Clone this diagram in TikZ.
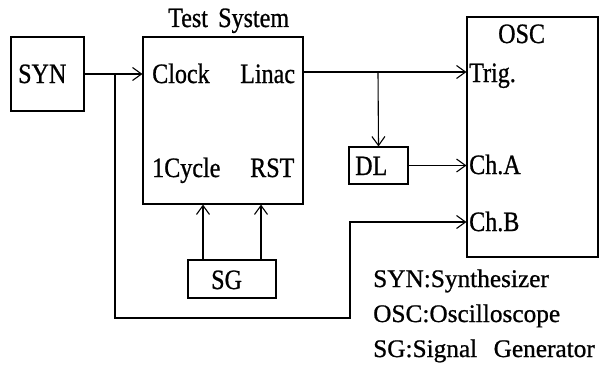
\documentclass[tikz,border=0pt]{standalone}
\usepackage{fontspec}
\setmainfont{Liberation Serif}[FakeStretch=0.86,FakeBold=0.8]
\newfontfamily\legfont{Liberation Serif}[FakeBold=0.8]
\usetikzlibrary{arrows.meta}
\begin{document}
\begin{tikzpicture}[x=1pt,y=-1pt,
  box/.style={draw,line width=1.1pt,inner sep=0pt,minimum width=#1},
  arr/.style={line width=1.1pt,-{Straight Barb[length=9pt,width=13pt,line width=1.1pt]}},
  txt/.style={anchor=base west,inner sep=0pt,font=\fontsize{28}{30}\selectfont},
  leg/.style={anchor=base west,inner sep=0pt,font=\legfont\fontsize{25.3}{28}\selectfont}]
\useasboundingbox (0,0) rectangle (599,364);
% boxes
\node[box=73pt,minimum height=74pt] (syn) at (47.5,74) {};
\node[box=160pt,minimum height=167pt] (ts) at (223,120.5) {};
\node[box=88pt,minimum height=38pt] (sg) at (232,279) {};
\node[box=59pt,minimum height=37pt] (dl) at (378.5,165.5) {};
\node[box=131pt,minimum height=240pt] (osc) at (532.5,137) {};
% texts
\node[txt] (synt) at (18,83) {SYN};
\node[txt] (tst) at (168,27) {Test\hspace{0.15em} System};
\node[txt] (clk) at (152,83) {Clock};
\node[txt] (lin) at (240,83) {Linac};
\node[txt] (cyc) at (152,177) {1Cycle};
\node[txt] (rst) at (250,177) {RST};
\node[txt] (sgt) at (211,289) {SG};
\node[txt] (dlt) at (355,175) {DL};
\node[txt] (osct) at (498,43) {OSC};
\node[txt] (trg) at (469,82) {Trig.};
\node[txt] (cha) at (469,174) {Ch.A};
\node[txt] (chb) at (469,231) {Ch.B};
\node[leg] (l1) at (373,287) {SYN:Synthesizer};
\node[leg] (l2) at (373,322) {OSC:Oscilloscope};
\node[leg] (l3) at (373,357) {SG:Signal\hspace{0.4em} Generator};
% coordinates
\coordinate (j1) at (115,74);
\coordinate (low) at (350,318);
\coordinate (yb) at (0,222);
\coordinate (yt) at (0,72);
\coordinate (j2) at (378,72);
\coordinate (s1) at (203,0);
\coordinate (s2) at (261,0);
% connectors
\draw[arr] (syn.east) -- (syn.east -| ts.west);
\draw[arr] (j1) |- (low) -- (low |- yb) -- (yb -| osc.west);
\draw[arr] (ts.east |- yt) -- (yt -| osc.west);
\draw[arr] (j2) -- (dl.north);
\draw[arr] (dl.east) -- (dl.east -| osc.west);
\draw[arr] (s1 |- sg.north) -- (s1 |- ts.south);
\draw[arr] (s2 |- sg.north) -- (s2 |- ts.south);
\end{tikzpicture}
\end{document}
